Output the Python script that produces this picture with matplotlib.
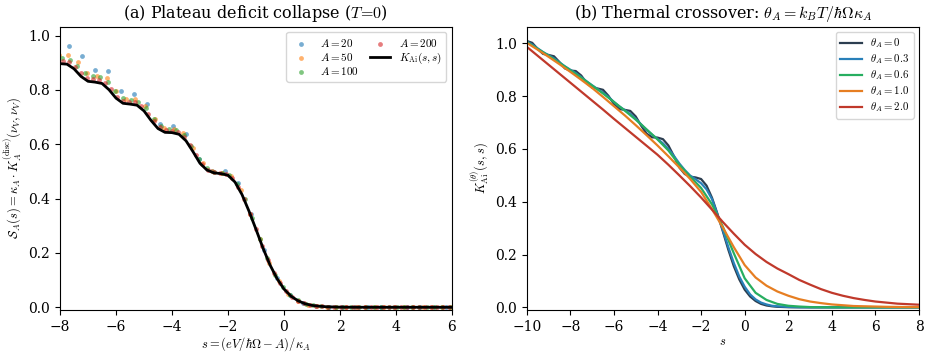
"""Plateau deficit collapse and thermal crossover of the Airy kernel."""

import matplotlib

matplotlib.use("Agg")
import matplotlib.pyplot as plt

plt.rcParams["font.family"] = "DejaVu Serif"
plt.rcParams["mathtext.fontset"] = "cm"

# --- Airy kernel K_Ai(s,s) (theta = 0) ----------------------------------------
S_FINE = [
    -10.0, -9.75, -9.5, -9.25, -9.0, -8.75, -8.5, -8.25, -8.0, -7.75,
    -7.5, -7.25, -7.0, -6.75, -6.5, -6.25, -6.0, -5.75, -5.5, -5.25,
    -5.0, -4.75, -4.5, -4.25, -4.0, -3.75, -3.5, -3.25, -3.0, -2.75,
    -2.5, -2.25, -2.0, -1.75, -1.5, -1.25, -1.0, -0.75, -0.5, -0.25,
    0.0, 0.25, 0.5, 0.75, 1.0, 1.25, 1.5, 2.0, 2.5, 3.0,
    4.0, 5.0, 6.0, 7.0, 8.0,
]
K_THETA_0 = [
    1.009, 1.002, 0.979, 0.960, 0.956, 0.951, 0.929, 0.905, 0.897, 0.895,
    0.878, 0.850, 0.832, 0.829, 0.824, 0.801, 0.770, 0.751, 0.748, 0.744,
    0.723, 0.688, 0.658, 0.644, 0.643, 0.637, 0.613, 0.573, 0.530, 0.505,
    0.495, 0.492, 0.486, 0.461, 0.415, 0.354, 0.287, 0.218, 0.156, 0.106,
    0.067, 0.041, 0.024, 0.013, 0.007, 0.004, 0.002, 0.0005, 0.0001, 0.0,
    0.0, 0.0, 0.0, 0.0, 0.0,
]
K_THETA_03 = [
    1.007, 0.995, 0.981, 0.967, 0.955, 0.943, 0.928, 0.913, 0.900, 0.887,
    0.872, 0.856, 0.841, 0.827, 0.813, 0.797, 0.778, 0.761, 0.747, 0.732,
    0.714, 0.693, 0.672, 0.654, 0.638, 0.621, 0.600, 0.574, 0.545, 0.520,
    0.499, 0.485, 0.470, 0.447, 0.410, 0.352, 0.292, 0.228, 0.168, 0.117,
    0.078, 0.049, 0.030, 0.018, 0.011, 0.006, 0.004, 0.0015, 0.0005, 0.0002,
    0.0, 0.0, 0.0, 0.0, 0.0,
]

S_COARSE = [
    -10.0, -9.5, -9.0, -8.5, -8.0, -7.5, -7.0, -6.5, -6.0, -5.5,
    -5.0, -4.5, -4.0, -3.5, -3.0, -2.5, -2.0, -1.5, -1.0, -0.5,
    0.0, 0.5, 1.0, 1.5, 2.0, 2.5, 3.0, 3.5, 4.0, 4.5,
    5.0, 5.5, 6.0, 6.5, 7.0, 7.5, 8.0,
]
K_THETA_06 = [
    1.005, 0.979, 0.953, 0.926, 0.898, 0.870, 0.840, 0.810, 0.778, 0.745,
    0.711, 0.674, 0.636, 0.594, 0.540, 0.495, 0.452, 0.390, 0.305, 0.205,
    0.110, 0.055, 0.028, 0.013, 0.006, 0.003, 0.001, 0.0005, 0.0002, 0.0,
    0.0, 0.0, 0.0, 0.0, 0.0, 0.0, 0.0,
]
K_THETA_10 = [
    1.002, 0.976, 0.949, 0.921, 0.892, 0.862, 0.831, 0.797, 0.762, 0.727,
    0.690, 0.652, 0.613, 0.572, 0.530, 0.486, 0.437, 0.372, 0.302, 0.228,
    0.160, 0.113, 0.082, 0.060, 0.044, 0.031, 0.022, 0.016, 0.011, 0.008,
    0.005, 0.004, 0.003, 0.002, 0.0015, 0.001, 0.001,
]
K_THETA_20 = [
    0.987, 0.953, 0.919, 0.885, 0.851, 0.817, 0.783, 0.749, 0.714, 0.680,
    0.646, 0.612, 0.578, 0.540, 0.500, 0.459, 0.416, 0.370, 0.323, 0.279,
    0.237, 0.202, 0.172, 0.147, 0.126, 0.104, 0.086, 0.069, 0.055, 0.044,
    0.035, 0.028, 0.022, 0.018, 0.014, 0.012, 0.010,
]

# --- discrete plateau deficit S_A(s) for several A -----------------------------
S_A20 = [
    -7.67, -7.21, -6.74, -6.28, -5.81, -5.35, -4.89, -4.42, -3.96, -3.49,
    -3.03, -2.57, -2.10, -1.64, -1.18, -0.71, -0.25, 0.22, 0.68, 1.14,
    1.61, 2.07, 2.54, 3.00, 3.46, 3.93, 4.39, 4.86, 5.32, 5.79,
]
V_A20 = [
    0.961, 0.924, 0.875, 0.869, 0.797, 0.784, 0.750, 0.675, 0.668, 0.637,
    0.547, 0.500, 0.502, 0.457, 0.343, 0.212, 0.108, 0.045, 0.016, 0.005,
    0.001, 0.0, 0.0, 0.0, 0.0, 0.0, 0.0, 0.0, 0.0, 0.0,
]
S_A50 = [
    -8.04, -7.70, -7.36, -7.02, -6.67, -6.33, -5.99, -5.65, -5.31, -4.96,
    -4.62, -4.28, -3.94, -3.60, -3.25, -2.91, -2.57, -2.23, -1.89, -1.55,
    -1.20, -0.86, -0.52, -0.18, 0.16, 0.51, 0.85, 1.19, 1.53, 1.87,
    2.22, 2.56, 2.90, 3.24, 3.58, 3.93, 4.27, 4.61, 4.95, 5.29,
    5.64, 5.98,
]
V_A50 = [
    0.930, 0.929, 0.904, 0.862, 0.853, 0.843, 0.797, 0.766, 0.767, 0.741,
    0.692, 0.659, 0.656, 0.641, 0.586, 0.531, 0.502, 0.494, 0.485, 0.433,
    0.345, 0.251, 0.163, 0.096, 0.050, 0.024, 0.010, 0.005, 0.002, 0.001,
    0.0, 0.0, 0.0, 0.0, 0.0, 0.0, 0.0, 0.0, 0.0, 0.0,
    0.0, 0.0,
]
S_A100 = [
    -7.92, -7.65, -7.38, -7.11, -6.83, -6.56, -6.29, -6.02, -5.75, -5.48,
    -5.21, -4.94, -4.66, -4.39, -4.12, -3.85, -3.58, -3.31, -3.04, -2.76,
    -2.49, -2.22, -1.95, -1.68, -1.41, -1.14, -0.86, -0.59, -0.32, -0.05,
    0.22, 0.49, 0.77, 1.04, 1.31, 1.58, 1.85, 2.12, 2.39, 2.67,
    2.94, 3.21, 3.48, 3.75, 4.02, 4.29, 4.56, 4.84, 5.11, 5.38,
    5.65, 5.92,
]
V_A100 = [
    0.917, 0.912, 0.888, 0.864, 0.850, 0.846, 0.828, 0.795, 0.770, 0.764,
    0.757, 0.733, 0.694, 0.666, 0.657, 0.652, 0.634, 0.594, 0.546, 0.513,
    0.499, 0.495, 0.486, 0.453, 0.397, 0.327, 0.252, 0.181, 0.120, 0.075,
    0.044, 0.025, 0.013, 0.007, 0.004, 0.002, 0.001, 0.0, 0.0, 0.0,
    0.0, 0.0, 0.0, 0.0, 0.0, 0.0, 0.0, 0.0, 0.0, 0.0,
    0.0, 0.0,
]
S_A200 = [
    -7.89, -7.68, -7.46, -7.24, -7.03, -6.81, -6.60, -6.38, -6.17, -5.95,
    -5.74, -5.52, -5.31, -5.09, -4.87, -4.66, -4.44, -4.23, -4.01, -3.80,
    -3.58, -3.37, -3.15, -2.94, -2.72, -2.51, -2.29, -2.07, -1.86, -1.64,
    -1.43, -1.21, -1.00, -0.78, -0.57, -0.35, -0.14, 0.08, 0.30, 0.51,
    0.73, 0.94, 1.16, 1.37, 1.59, 1.80, 2.02, 2.23, 2.45, 2.66,
    2.88, 3.10, 3.31, 3.53, 3.74, 3.96, 4.17, 4.39, 4.60, 4.82,
    5.03, 5.25, 5.47, 5.68, 5.90,
]
V_A200 = [
    0.908, 0.904, 0.886, 0.862, 0.845, 0.841, 0.837, 0.824, 0.802, 0.776,
    0.761, 0.757, 0.754, 0.740, 0.713, 0.685, 0.662, 0.651, 0.649, 0.644,
    0.627, 0.597, 0.561, 0.528, 0.507, 0.498, 0.495, 0.491, 0.475, 0.442,
    0.400, 0.344, 0.287, 0.226, 0.173, 0.126, 0.089, 0.059, 0.037, 0.023,
    0.014, 0.008, 0.005, 0.003, 0.002, 0.001, 0.0, 0.0, 0.0, 0.0,
    0.0, 0.0, 0.0, 0.0, 0.0, 0.0, 0.0, 0.0, 0.0, 0.0,
    0.0, 0.0, 0.0, 0.0, 0.0,
]

A_LABELS = ["$A=20$", "$A=50$", "$A=100$", "$A=200$"]
A_COLORS = ["tab:blue", "tab:orange", "tab:green", "tab:red"]
THETA_LABELS = [r"$\theta_A=0$", r"$\theta_A=0.3$", r"$\theta_A=0.6$",
                r"$\theta_A=1.0$", r"$\theta_A=2.0$"]
THETA_COLORS = ["#2c3e50", "#2980b9", "#27ae60", "#e67e22", "#c0392b"]

FONT_TITLE = 11.5
FONT_LABEL = 9
FONT_TICK = 10


def plot_collapse(ax):
    series = [(S_A20, V_A20), (S_A50, V_A50), (S_A100, V_A100), (S_A200, V_A200)]
    for (s, v), lab, col in zip(series, A_LABELS, A_COLORS):
        ax.scatter(s, v, s=12, color=col, alpha=0.6, linewidths=0, label=lab)
    ax.plot(S_FINE, K_THETA_0, color="black", lw=2.0,
            label=r"$K_{\mathrm{Ai}}(s,s)$")
    ax.set_xlim(-8, 6)
    ax.set_ylim(-0.01, 1.033)
    ax.set_title(r"(a) Plateau deficit collapse ($T\!=\!0$)", fontsize=FONT_TITLE)
    ax.set_xlabel(r"$s=(eV/\hbar\Omega-A)/\kappa_A$", fontsize=FONT_LABEL,
                  labelpad=1)
    ax.set_ylabel(r"$\mathcal{S}_A(s)=\kappa_A\cdot K_A^{(\mathrm{disc})}(\nu_V,\nu_V)$",
                  fontsize=FONT_LABEL)
    ax.tick_params(labelsize=FONT_TICK)
    ax.legend(loc="upper right", ncol=2, fontsize=8, framealpha=0.8,
              labelspacing=0.2, columnspacing=1.0, handlelength=1.8)


def plot_thermal(ax):
    curves = [
        (S_FINE, K_THETA_0), (S_FINE, K_THETA_03), (S_COARSE, K_THETA_06),
        (S_COARSE, K_THETA_10), (S_COARSE, K_THETA_20),
    ]
    for (s, k), lab, col in zip(curves, THETA_LABELS, THETA_COLORS):
        ax.plot(s, k, color=col, lw=1.6, label=lab)
    ax.set_xlim(-10, 8)
    ax.set_ylim(-0.01, 1.063)
    ax.set_title(r"(b) Thermal crossover: $\theta_A=k_BT/\hbar\Omega\kappa_A$",
                 fontsize=FONT_TITLE)
    ax.set_xlabel(r"$s$", fontsize=FONT_LABEL, labelpad=1)
    ax.set_ylabel(r"$K_{\mathrm{Ai}}^{(\theta)}(s,s)$", fontsize=FONT_LABEL)
    ax.tick_params(labelsize=FONT_TICK)
    ax.legend(loc="upper right", fontsize=7.8, framealpha=0.8, labelspacing=0.2,
              handlelength=2.0)


def main():
    fig = plt.figure(figsize=(9.29, 3.57), dpi=100)
    ax_a = fig.add_axes([0.0646, 0.1317, 0.4219, 0.7935])
    ax_b = fig.add_axes([0.5670, 0.1317, 0.4223, 0.7935])
    plot_collapse(ax_a)
    plot_thermal(ax_b)
    fig.savefig("out.png", dpi=100)
    plt.close(fig)


if __name__ == "__main__":
    main()
